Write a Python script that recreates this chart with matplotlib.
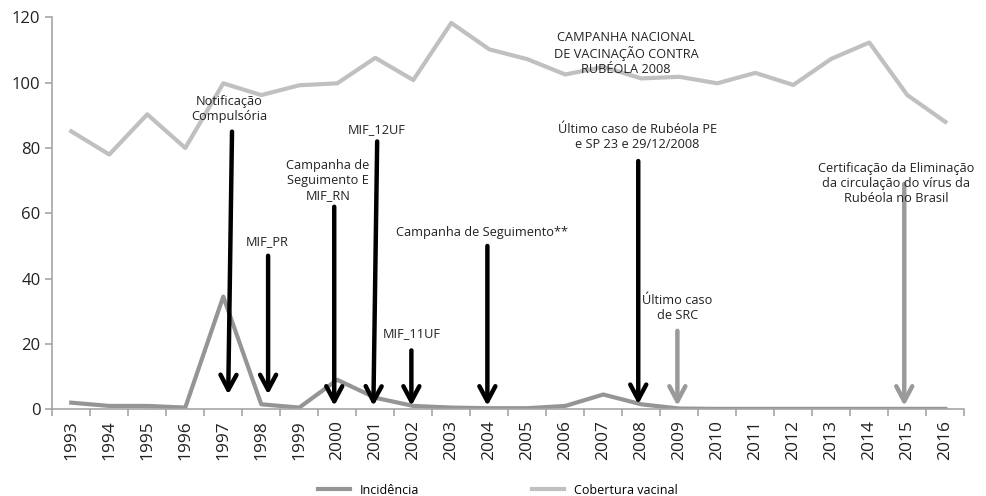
import matplotlib.pyplot as plt

plt.rcParams['font.family'] = ['Open Sans', 'DejaVu Sans']

years = list(range(1993, 2017))
incidencia = [2.0, 1.0, 1.0, 0.5, 34.5, 1.5, 0.5, 9.0, 3.5, 1.0, 0.5, 0.3,
              0.3, 1.0, 4.5, 1.5, 0.2, 0.1, 0.1, 0.1, 0.1, 0.1, 0.1, 0.1]
cobertura = [85.1, 78.0, 90.3, 80.0, 99.8, 96.2, 99.2, 99.8, 107.6, 100.8, 118.3, 110.2,
             107.2, 102.5, 104.8, 101.3, 101.8, 99.8, 103.0, 99.3, 107.3, 112.3, 96.2, 88.0]

# arrows: x position (category index), tail value, head value, colour
arrow_tail_x = [4.23, 5.18, 6.92, 8.05, 8.95, 10.95, 14.92, 15.95, 21.92]
arrow_head_x = [4.13, 5.18, 6.92, 7.95, 8.95, 10.95, 14.92, 15.95, 21.92]
arrow_tail = [85, 47, 62, 82, 18, 50, 76, 24, 69]
arrow_head = [4.5, 4.5, 1, 1, 1, 1, 1.5, 1, 1]
arrow_dark = [True, True, True, True, True, True, True, False, False]

# annotation texts: x (category index), y value, text
note_x = [4.15, 5.15, 6.75, 8.05, 8.95, 10.8, 14.6, 14.9, 15.95, 21.7]
note_y = [92, 51.4, 70, 85.7, 23.3, 54.2, 109, 83.5, 31, 69]
note_txt = ['Notificação\nCompulsória', 'MIF_PR', 'Campanha de\nSeguimento E\nMIF_RN',
            'MIF_12UF', 'MIF_11UF', 'Campanha de Seguimento**',
            'CAMPANHA NACIONAL\nDE VACINAÇÃO CONTRA\nRUBÉOLA 2008',
            'Último caso de Rubéola PE\ne SP 23 e 29/12/2008', 'Último caso\nde SRC',
            'Certificação da Eliminação\nda circulação do vírus da\nRubéola no Brasil']

inc_color = '#959595'
cob_color = '#c0c0c0'
axis_color = '#a6a6a6'

fig = plt.figure(figsize=(9.86, 4.96), dpi=100)
ax = fig.add_axes([0.053, 0.175, 0.925, 0.79])

x = list(range(len(years)))
ax.plot(x, incidencia, color=inc_color, lw=3, label='Incidência', zorder=2)
ax.plot(x, cobertura, color=cob_color, lw=3, label='Cobertura vacinal', zorder=2)

for tx, hx, t, h, dark in zip(arrow_tail_x, arrow_head_x, arrow_tail, arrow_head, arrow_dark):
    c = 'black' if dark else '#9a9a9a'
    ax.annotate('', xy=(hx, h), xytext=(tx, t),
                arrowprops=dict(arrowstyle='->,head_length=0.6,head_width=0.32',
                                color=c, lw=3.2, mutation_scale=18,
                                shrinkA=0, shrinkB=0), zorder=3)

for nx, ny, s in zip(note_x, note_y, note_txt):
    ax.text(nx, ny, s, ha='center', va='center', fontsize=9.2,
            color='#222222', linespacing=1.2, zorder=4)

ax.set_xlim(-0.5, len(years) - 0.5)
ax.set_ylim(0, 120)
ax.set_yticks([0, 20, 40, 60, 80, 100, 120])
ax.set_xticks(x)
ax.set_xticklabels([str(y) for y in years], rotation=90)
ax.set_xticks([i - 0.5 for i in range(len(years) + 1)], minor=True)
ax.tick_params(axis='x', which='major', length=0, pad=8, labelsize=12.5, colors='#222222')
ax.tick_params(axis='x', which='minor', length=5, width=1.2, color=axis_color, direction='out')
ax.tick_params(axis='y', length=5, width=1.2, color=axis_color, labelsize=12, labelcolor='#222222')

for side in ['top', 'right']:
    ax.spines[side].set_visible(False)
for side in ['left', 'bottom']:
    ax.spines[side].set_color(axis_color)
    ax.spines[side].set_linewidth(1.2)

fig.legend(loc='center', bbox_to_anchor=(0.505, 0.012), ncol=2, frameon=False,
           fontsize=9, handlelength=2.6, columnspacing=9)

plt.savefig('out.png')
